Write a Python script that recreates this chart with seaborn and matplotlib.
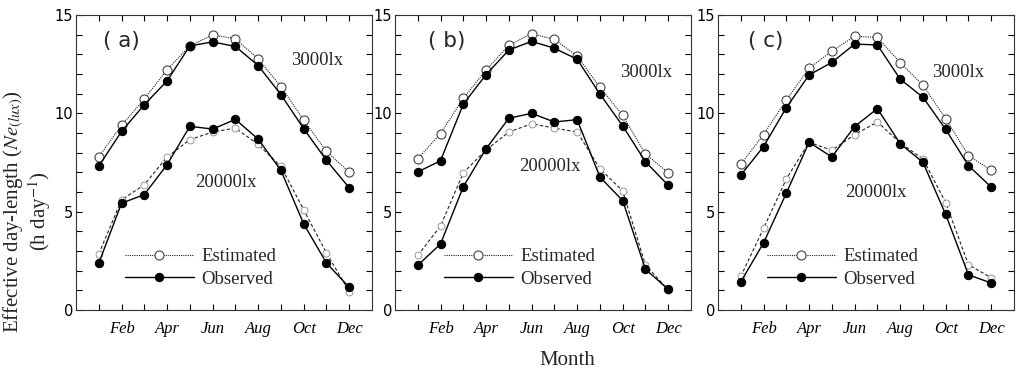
import numpy as np
import pandas as pd
import matplotlib
matplotlib.use("Agg")
import matplotlib.pyplot as plt
import seaborn as sns
from matplotlib.ticker import MultipleLocator, FixedLocator

months = list(range(1, 13))
tick_months = [2, 4, 6, 8, 10, 12]
tick_labels = ["Feb", "Apr", "Jun", "Aug", "Oct", "Dec"]
panel_labels = ["( a)", "( b)", "( c)"]

# Panel (a)
a_est_3000 = [7.78, 9.39, 10.73, 12.22, 13.43, 13.99, 13.79, 12.77, 11.36, 9.66, 8.06, 7.01]
a_obs_3000 = [7.32, 9.08, 10.44, 11.65, 13.43, 13.63, 13.40, 12.43, 10.95, 9.22, 7.61, 6.21]
a_est_20000 = [2.85, 5.60, 6.37, 7.78, 8.66, 9.05, 9.25, 8.42, 7.30, 5.09, 2.90, 0.93]
a_obs_20000 = [2.38, 5.43, 5.87, 7.39, 9.34, 9.20, 9.69, 8.69, 7.10, 4.38, 2.39, 1.15]
# Panel (b)
b_est_3000 = [7.69, 8.97, 10.76, 12.20, 13.46, 14.05, 13.76, 12.92, 11.32, 9.90, 7.93, 6.98]
b_obs_3000 = [7.02, 7.59, 10.47, 11.97, 13.22, 13.66, 13.31, 12.75, 10.98, 9.36, 7.54, 6.34]
b_est_20000 = [2.78, 4.27, 6.98, 8.14, 9.05, 9.47, 9.25, 9.05, 7.19, 6.05, 2.29, 1.02]
b_obs_20000 = [2.27, 3.36, 6.27, 8.20, 9.75, 10.00, 9.56, 9.68, 6.76, 5.56, 2.07, 1.05]
# Panel (c)
c_est_3000 = [7.41, 8.92, 10.68, 12.29, 13.16, 13.92, 13.86, 12.58, 11.43, 9.73, 7.85, 7.10]
c_obs_3000 = [6.86, 8.31, 10.29, 11.95, 12.59, 13.52, 13.48, 11.74, 10.82, 9.18, 7.34, 6.25]
c_est_20000 = [1.71, 4.15, 6.66, 8.53, 8.12, 8.92, 9.56, 8.50, 7.68, 5.46, 2.30, 1.64]
c_obs_20000 = [1.43, 3.41, 5.94, 8.53, 7.78, 9.33, 10.24, 8.46, 7.51, 4.86, 1.79, 1.37]

panels = [
    (a_est_3000, a_obs_3000, a_est_20000, a_obs_20000),
    (b_est_3000, b_obs_3000, b_est_20000, b_obs_20000),
    (c_est_3000, c_obs_3000, c_est_20000, c_obs_20000),
]

sns.set_style("ticks")
plt.rcParams["font.family"] = ["Liberation Serif", "DejaVu Serif"]
plt.rcParams["mathtext.fontset"] = "stix"
plt.rcParams["xtick.direction"] = "in"
plt.rcParams["ytick.direction"] = "in"

fig = plt.figure(figsize=(10.24, 3.81), dpi=100)

lefts = [76 / 1024, 395 / 1024, 718 / 1024]
width = 296 / 1024
bottom = 1 - 310 / 381
height = 295 / 381

label_pos = [(1.2, 13.7), (1.45, 13.7), (1.3, 13.7)]
pos_3000 = [(9.45, 12.7), (9.9, 12.1), (9.4, 12.1)]
pos_20000 = [(5.25, 6.5), (5.45, 7.3), (5.6, 5.95)]

for i, (est3, obs3, est2, obs2) in enumerate(panels):
    ax = fig.add_axes([lefts[i], bottom, width, height])
    # 3000 lx
    sns.lineplot(x=months, y=est3, ax=ax, color="#222222", linestyle=(0, (3, 2)), lw=0.8,
                 marker="o", markersize=6.5, markerfacecolor="white", markeredgecolor="#444444",
                 markeredgewidth=0.8, label="Estimated")
    sns.lineplot(x=months, y=obs3, ax=ax, color="black", linestyle="-", lw=1.0,
                 marker="o", markersize=6, markerfacecolor="black", markeredgecolor="black",
                 label="Observed")
    # 20000 lx
    sns.lineplot(x=months, y=est2, ax=ax, color="#222222", linestyle=(0, (3, 2)), lw=0.8,
                 marker="o", markersize=5, markerfacecolor="white", markeredgecolor="#888888",
                 markeredgewidth=0.6)
    sns.lineplot(x=months, y=obs2, ax=ax, color="black", linestyle="-", lw=1.0,
                 marker="o", markersize=6, markerfacecolor="black", markeredgecolor="black")

    ax.set_xlim(0, 13)
    ax.set_ylim(0, 15)
    ax.xaxis.set_major_locator(FixedLocator(tick_months))
    ax.set_xticklabels(tick_labels, fontstyle="italic", fontsize=12)
    ax.xaxis.set_minor_locator(FixedLocator(months))
    ax.yaxis.set_major_locator(MultipleLocator(5))
    ax.yaxis.set_minor_locator(MultipleLocator(1))
    for lab in ax.get_yticklabels():
        lab.set_family("DejaVu Sans")
        lab.set_fontsize(10.5)
    ax.tick_params(axis="both", which="both", direction="in", top=True, right=True,
                   length=4, width=0.8, colors="black")
    ax.tick_params(axis="y", which="major", pad=2)
    ax.tick_params(axis="x", which="major", pad=8)
    for s in ax.spines.values():
        s.set_linewidth(0.8)
        s.set_color("#333333")

    ax.text(label_pos[i][0], label_pos[i][1], panel_labels[i], fontsize=15.5,
            family="DejaVu Sans", va="center", ha="left")
    ax.text(pos_3000[i][0], pos_3000[i][1], "3000lx", fontsize=13.5, va="center", ha="left")
    ax.text(pos_20000[i][0], pos_20000[i][1], "20000lx", fontsize=13.5, va="center", ha="left")

    handles, labels = ax.get_legend_handles_labels()
    handles[0].set_linestyle((0, (1, 1)))
    ax.legend(handles[:2], labels[:2], loc="lower left", bbox_to_anchor=(0.12, 0.03),
              frameon=False, fontsize=13.5, handlelength=3.7, handletextpad=0.4,
              labelspacing=0.3, borderpad=0.2)
    ax.set_xlabel("")
    ax.set_ylabel("")

fig.text(0.027, 0.445, "Effective day-length ($\\mathit{Ne}_{(lux)}$)\n(h day$^{-1}$)",
         rotation=90, ha="center", va="center", fontsize=15, multialignment="center",
         linespacing=1.0)
fig.text(0.554, 0.055, "Month", ha="center", va="center", fontsize=15)

fig.savefig("out.png", dpi=100)
